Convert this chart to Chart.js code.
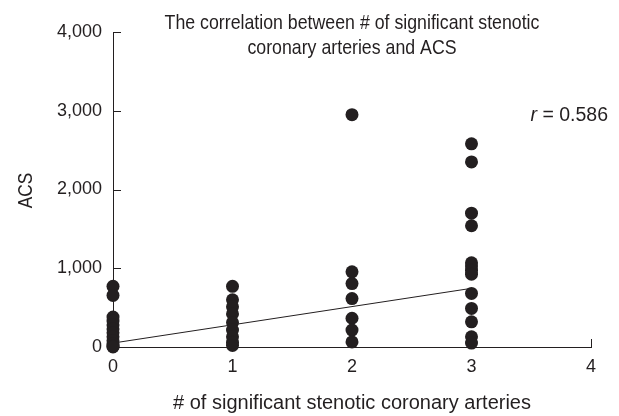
<!DOCTYPE html>
<html><head><meta charset="utf-8">
<script src="https://cdn.jsdelivr.net/npm/chart.js@4/dist/chart.umd.min.js"></script>
<style>html,body{margin:0;padding:0;background:#fff}#wrap{width:619px;height:416px}</style>
</head><body><div id="wrap"><canvas id="c" width="619" height="416"></canvas></div>
<script>
const vesselCounts = [0, 1, 2, 3];
const acsZero = [770, 655, 380, 330, 280, 230, 180, 130, 80, 40, 10, 0];
const acsOne = [770, 600, 510, 420, 310, 215, 130, 60, 20];
const acsTwo = [2950, 955, 805, 615, 365, 215, 65];
const acsThree = [2580, 2350, 1700, 1540, 1070, 1030, 975, 925, 680, 490, 320, 130, 50];
const fitX = [0, 3];
const fitY = [50, 745];
const xTicks = [0, 1, 2, 3, 4];
const yTicks = [0, 1000, 2000, 3000, 4000];
const titleLines = ['The correlation between # of significant stenotic', 'coronary arteries and ACS'];
const xTitle = '# of significant stenotic coronary arteries';
const yTitle = 'ACS';
const rValue = '0.586';

const INK = '#231f20';
const FAMILY = '"Liberation Sans", Arial, Helvetica, sans-serif';
const font = { family: FAMILY, size: 18 };

const groups = [acsZero, acsOne, acsTwo, acsThree];
const scatterData = [];
groups.forEach((vals, i) => vals.forEach(v => scatterData.push({ x: vesselCounts[i], y: v })));
const fitData = fitX.map((x, i) => ({ x, y: fitY[i] }));

function condensedText(ctx, text, x, y, size, squeeze, align, rotate) {
  ctx.save();
  ctx.translate(x, y);
  if (rotate) ctx.rotate(rotate);
  ctx.scale(squeeze, 1);
  ctx.font = `${size}px ${FAMILY}`;
  ctx.textAlign = align;
  ctx.fillText(text, 0, 0);
  ctx.restore();
}

const decor = {
  id: 'decor',
  beforeDatasetsDraw(chart) {
    const { ctx, scales: { x, y } } = chart;
    ctx.save();
    ctx.strokeStyle = INK; ctx.lineWidth = 1;
    ctx.beginPath();
    yTicks.forEach(v => { if (v === 0) return; const py = Math.round(y.getPixelForValue(v)) + 0.5; ctx.moveTo(x.left, py); ctx.lineTo(x.left + 8, py); });
    xTicks.forEach(v => { if (v === 0) return; const px = Math.round(x.getPixelForValue(v)) + 0.5; ctx.moveTo(px, y.bottom); ctx.lineTo(px, y.bottom - 8); });
    ctx.stroke();
    ctx.restore();
  },
  afterDraw(chart) {
    const { ctx, chartArea, scales: { y } } = chart;
    ctx.save();
    ctx.fillStyle = INK;
    ctx.textBaseline = 'alphabetic';
    const cx = (chartArea.left + chartArea.right) / 2;
    condensedText(ctx, titleLines[0], cx, 28.5, 21, 0.845, 'center', 0);
    condensedText(ctx, titleLines[1], cx, 54, 21, 0.845, 'center', 0);
    // y-axis title
    ctx.textBaseline = 'middle';
    condensedText(ctx, yTitle, 26, (chartArea.top + chartArea.bottom) / 2 + 1, 21, 0.82, 'center', -Math.PI / 2);
    // r annotation
    ctx.textBaseline = 'alphabetic';
    const ry = y.getPixelForValue(3000) + 10.5;
    ctx.textAlign = 'right';
    ctx.font = `19.5px ${FAMILY}`;
    const rest = ' = ' + rValue;
    const restW = ctx.measureText(rest).width;
    const rightX = chartArea.right + 17;
    ctx.fillText(rest, rightX, ry);
    ctx.font = `italic 19.5px ${FAMILY}`;
    ctx.fillText('r', rightX - restW, ry);
    ctx.restore();
  }
};

new Chart(document.getElementById('c'), {
  type: 'scatter',
  data: {
    datasets: [
      { type: 'line', data: fitData, borderColor: INK, borderWidth: 1, pointRadius: 0, fill: false, clip: false, order: 2 },
      { data: scatterData, backgroundColor: INK, borderColor: INK, pointRadius: 6.5, pointHoverRadius: 6.5, borderWidth: 0, clip: false, order: 1 }
    ]
  },
  options: {
    responsive: false,
    animation: false,
    events: [],
    layout: { padding: { left: 0, top: 32, right: 28, bottom: 0 } },
    plugins: { legend: { display: false }, tooltip: { enabled: false }, title: { display: false } },
    scales: {
      x: {
        type: 'linear', min: 0, max: 4,
        afterBuildTicks: s => { s.ticks = xTicks.map(v => ({ value: v })); },
        afterFit: s => { s.height = 69; },
        ticks: { font, color: INK, padding: 9 },
        grid: { display: true, drawOnChartArea: false, drawTicks: false },
        border: { display: true, color: INK, width: 1 },
        title: { display: true, text: xTitle, font: { family: FAMILY, size: 20 }, color: INK, padding: { top: 0, bottom: 1 } }
      },
      y: {
        type: 'linear', min: 0, max: 4000,
        afterBuildTicks: s => { s.ticks = yTicks.map(v => ({ value: v })); },
        afterFit: s => { s.width = 113; },
        ticks: { font, color: INK, padding: 11, callback: v => v.toLocaleString('en-US') },
        grid: { display: true, drawOnChartArea: false, drawTicks: false },
        border: { display: true, color: INK, width: 1 },
        title: { display: false }
      }
    }
  },
  plugins: [decor]
});
</script></body></html>
